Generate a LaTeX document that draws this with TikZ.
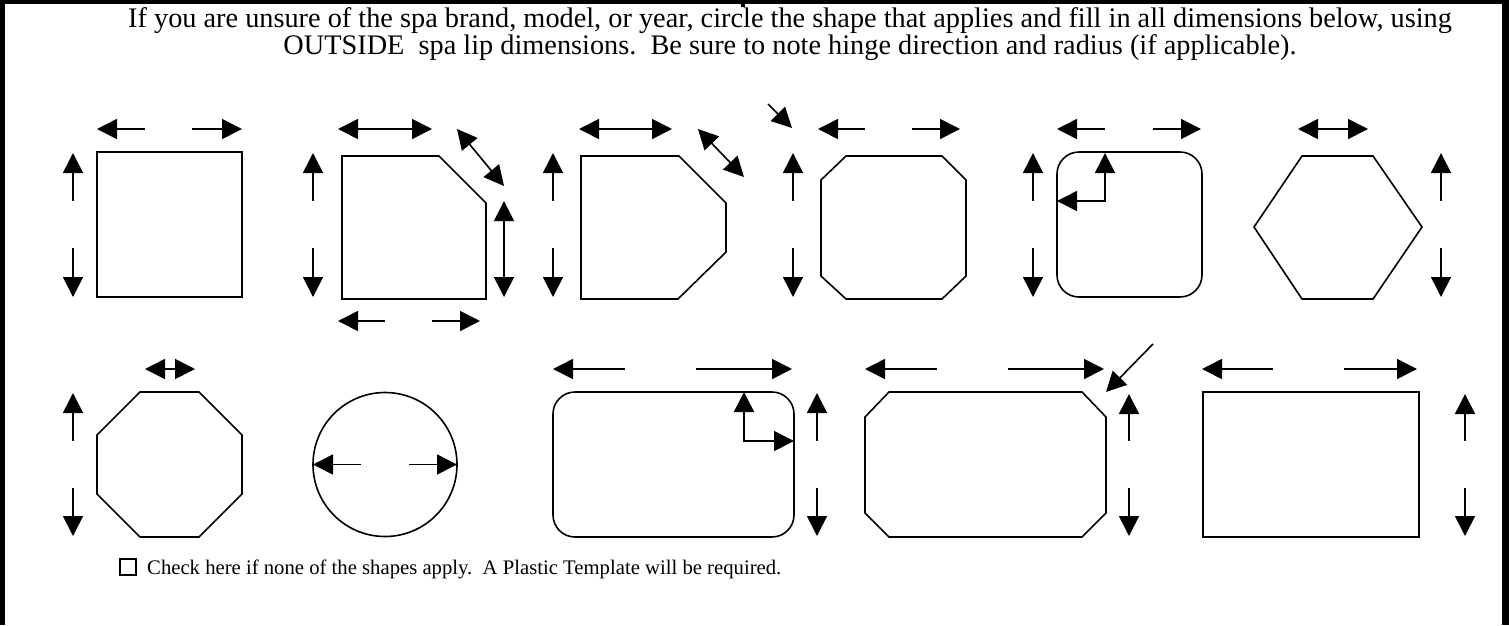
\documentclass[tikz,border=0pt]{standalone}
\usepackage{fontspec}
\setmainfont{Liberation Serif}
\usetikzlibrary{arrows.meta}
\begin{document}
\begin{tikzpicture}[x=1pt,y=-1pt,
  outline/.style={line width=1.6pt, line join=miter},
  dim/.style={line width=1.6pt, -{Triangle[length=20pt,width=20pt]}},
  dimboth/.style={line width=1.6pt, {Triangle[length=20pt,width=20pt]}-{Triangle[length=20pt,width=20pt]}},
  txt/.style={font=\fontsize{28.3pt}{28pt}\selectfont, inner sep=0pt}
  ]
\useasboundingbox (0,0) rectangle (1509,625);
% frame
\fill (0,0) rectangle (5,625);
\fill (1502,0) rectangle (1509,625);
\fill (0,0) rectangle (1509,4);
\fill (741,0) rectangle (745,7);
% title
\node[txt, anchor=base] (title1) at (790,27)
 {If you are unsure of the spa brand, model, or year, circle the shape that applies and fill in all dimensions below, using};
\node[txt, anchor=base] (title2) at (790,54)
 {OUTSIDE\ \ spa lip dimensions.\ \ Be sure to note hinge direction and radius (if applicable).};
% shape 1 square
\draw[outline] (97,152) rectangle (242,297);
\draw[dim] (145,129) -- (97,129); \draw[dim] (192,129) -- (242,129);
\draw[dim] (73,201) -- (73,153); \draw[dim] (73,248) -- (73,297);
% shape 2
\draw[outline] (342,156) -- (439,156) -- (486,203) -- (486,299) -- (342,299) -- cycle;
\draw[dimboth] (338,129) -- (432,129);
\draw[dimboth] (457,129) -- (504,186);
\draw[dim] (313,201) -- (313,153); \draw[dim] (313,248) -- (313,297);
\draw[dimboth] (504,201) -- (504,297);
\draw[dim] (385,321) -- (338,321); \draw[dim] (432,321) -- (480,321);
% shape 3
\draw[outline] (581,156) -- (679,156) -- (726,203) -- (726,252) -- (678,299) -- (581,299) -- cycle;
\draw[dimboth] (579,129) -- (672,129);
\draw[dimboth] (698,129) -- (744,177);
\draw[dim] (553,201) -- (553,153); \draw[dim] (553,248) -- (553,297);
% shape 4
\draw[outline] (821,180) -- (846,156) -- (942,156) -- (966,180) -- (966,276) -- (942,299) -- (846,299) -- (821,276) -- cycle;
\draw[dim] (768,104) -- (792,128);
\draw[dim] (865,129) -- (818,129); \draw[dim] (912,129) -- (960,129);
\draw[dim] (793,201) -- (793,153); \draw[dim] (793,248) -- (793,297);
% shape 5
\draw[outline, rounded corners=22pt] (1057,152) rectangle (1202,297);
\draw[dim] (1105,129) -- (1057,129); \draw[dim] (1153,129) -- (1201,129);
\draw[dim] (1033,201) -- (1033,153); \draw[dim] (1033,248) -- (1033,297);
\draw[dimboth] (1057,201) -- (1105,201) -- (1105,153);
% shape 6 hexagon
\draw[outline] (1302,156) -- (1373,156) -- (1422,227) -- (1373,299) -- (1302,299) -- (1254,227) -- cycle;
\draw[dimboth] (1298,129) -- (1368,129);
\draw[dim] (1441,201) -- (1441,153); \draw[dim] (1441,248) -- (1441,297);
% shape 7 octagon
\draw[outline] (140,392) -- (199,392) -- (242,435) -- (242,494) -- (199,537) -- (140,537) -- (97,494) -- (97,435) -- cycle;
\draw[dimboth] (145,369) -- (195,369);
\draw[dim] (73,441) -- (73,393); \draw[dim] (73,488) -- (73,536);
% shape 8 circle
\draw[outline] (385,464.5) circle[radius=72];
\draw[dim] (361,464.5) -- (313,464.5); \draw[dim] (409,464.5) -- (457,464.5);
% shape 9 rounded rectangle
\draw[outline, rounded corners=22pt] (553,392) rectangle (794,537);
\draw[dim] (625,369) -- (553,369); \draw[dim] (696,369) -- (792,369);
\draw[dimboth] (744,392) -- (744,441) -- (794,441);
\draw[dim] (817,441) -- (817,393); \draw[dim] (817,488) -- (817,536);
% shape 10 chamfered rectangle
\draw[outline] (865,417) -- (889,392) -- (1082,392) -- (1106,417) -- (1106,513) -- (1082,537) -- (889,537) -- (865,513) -- cycle;
\draw[dim] (937,369) -- (865,369); \draw[dim] (1008,369) -- (1104,369);
\draw[dim] (1153,344) -- (1106,392);
\draw[dim] (1129,441) -- (1129,394); \draw[dim] (1129,488) -- (1129,536);
% shape 11 rectangle
\draw[outline] (1203,392) rectangle (1419,537);
\draw[dim] (1273,369) -- (1202,369); \draw[dim] (1344,369) -- (1417,369);
\draw[dim] (1465,441) -- (1465,394); \draw[dim] (1465,488) -- (1465,536);
% check box and note
\node[draw, line width=1.2pt, minimum width=16pt, minimum height=16pt, inner sep=0pt] (box) at (128,567) {};
\node[txt, anchor=base west, font=\fontsize{20.7pt}{24pt}\selectfont] (note) at (147,574)
 {Check here if none of the shapes apply.\ \ A Plastic Template will be required.};
\end{tikzpicture}
\end{document}
